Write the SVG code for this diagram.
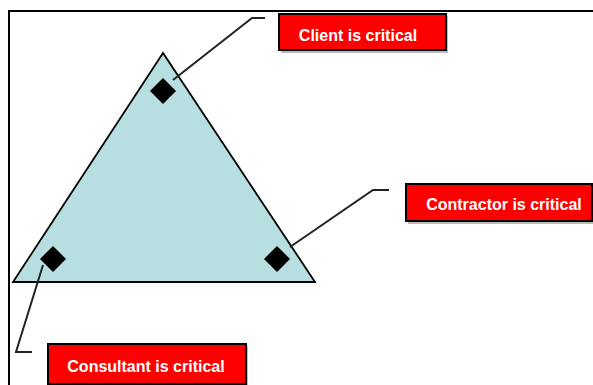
<svg xmlns="http://www.w3.org/2000/svg" width="593" height="385" viewBox="0 0 593 385">
<style>
.frame{stroke:#000;stroke-width:2;fill:none}
.tri{fill:#B7DEE0;stroke:#000;stroke-width:1.8;stroke-linejoin:miter}
.dia{fill:#000}
.lead{stroke:#222;stroke-width:2;fill:none}
.box{fill:#FF0000;stroke:#000;stroke-width:2}
.shadow{fill:#bbb}
.lbl{font-family:"Liberation Sans",Arial,sans-serif;font-weight:bold;font-size:16px;fill:#fff;text-anchor:middle}
</style>
<rect width="593" height="385" fill="#fff"/>
<path class="frame" d="M9,385 V11 H593"/>
<g id="triangle">
<polygon class="tri" points="163,53 13,282 315,282"/>
</g>
<g id="connectors">
<polyline class="lead" points="173,80 252,18 265,18"/>
<polyline class="lead" points="290,247 373,190 389,190"/>
<polyline class="lead" points="43,265 16,352 32,352"/>
</g>
<g id="diamond-top"><polygon class="dia" points="163,78 176,91 163,104 150,91"/></g>
<g id="diamond-left"><polygon class="dia" points="53,246 66,259 53,272 40,259"/></g>
<g id="diamond-right"><polygon class="dia" points="277,246 290,259 277,272 264,259"/></g>
<g id="client">
<rect class="shadow" x="281" y="16" width="167" height="37"/>
<rect class="box" x="279" y="14" width="167" height="36"/>
<text class="lbl" x="358" y="41">Client is critical</text>
</g>
<g id="contractor">
<rect class="shadow" x="408" y="186" width="186" height="38"/>
<rect class="box" x="406" y="184" width="186" height="37"/>
<text class="lbl" x="504" y="210">Contractor is critical</text>
</g>
<g id="consultant">
<rect class="shadow" x="50" y="346" width="198" height="40"/>
<rect class="box" x="48" y="344" width="198" height="40"/>
<text class="lbl" x="146" y="372">Consultant is critical</text>
</g>
</svg>
